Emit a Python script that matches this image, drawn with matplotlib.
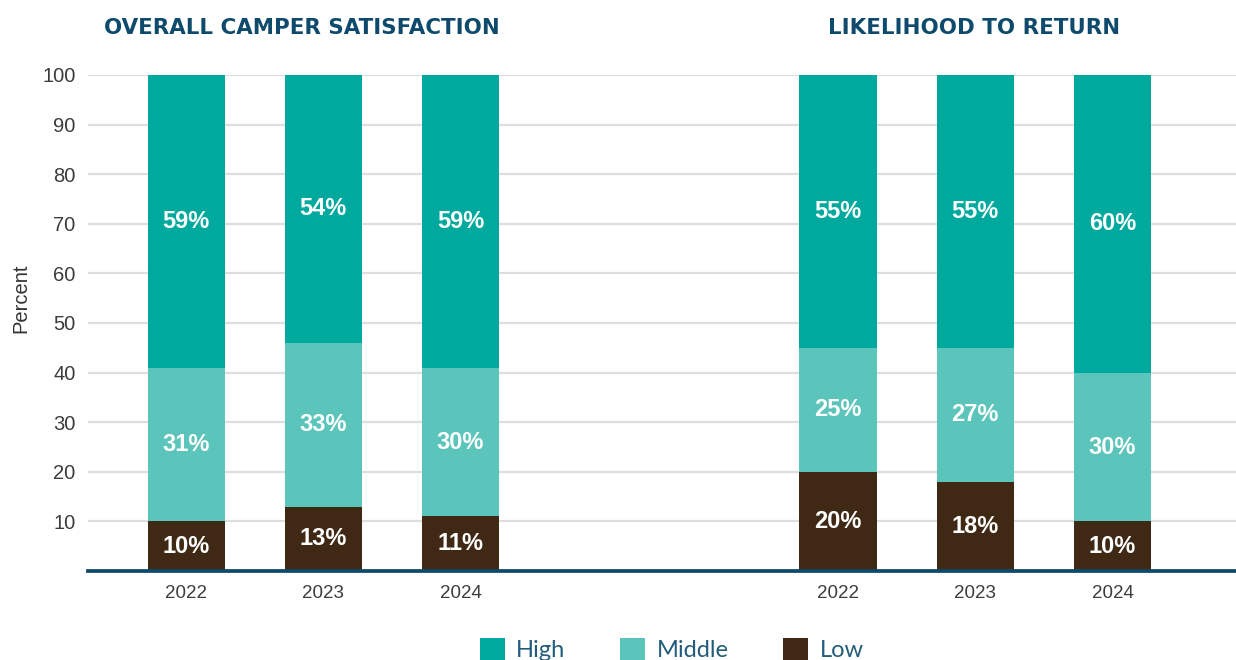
import numpy as np
import matplotlib.pyplot as plt
from matplotlib.patches import Patch

# Data (percent)
years = ["2022", "2023", "2024"]
groups = ["OVERALL CAMPER SATISFACTION", "LIKELIHOOD TO RETURN"]
series = ["High", "Middle", "Low"]

satisfaction_low = [10, 13, 11]
satisfaction_middle = [31, 33, 30]
satisfaction_high = [59, 54, 59]

return_low = [20, 18, 10]
return_middle = [25, 27, 30]
return_high = [55, 55, 60]

y_ticks = [10, 20, 30, 40, 50, 60, 70, 80, 90, 100]

# Style
COLORS = {"High": "#00a99d", "Middle": "#5bc4bb", "Low": "#3f2814"}
TITLE_COLOR = "#0d4a6b"
LEGEND_TEXT = "#245c7c"
TICK_COLOR = "#3c3c3c"

fig = plt.figure(figsize=(12.36, 6.6), dpi=100)
ax = fig.add_axes([88 / 1236, 1 - 571 / 660, 1 - 88 / 1236, (571 - 75) / 660])

# two groups of three bars, with a wide gap between them
x_sat = np.arange(3)
x_ret = np.arange(3) + 4.75
bar_width = 0.562

low = np.array(satisfaction_low + return_low)
middle = np.array(satisfaction_middle + return_middle)
high = np.array(satisfaction_high + return_high)
x_all = np.concatenate([x_sat, x_ret])

ax.bar(x_all, low, bar_width, color=COLORS["Low"], zorder=3)
ax.bar(x_all, middle, bar_width, bottom=low, color=COLORS["Middle"], zorder=3)
ax.bar(x_all, high, bar_width, bottom=low + middle, color=COLORS["High"], zorder=3)

# value labels in the middle of each segment
label_font = dict(family="Liberation Sans", weight="bold", size=17,
                  color="white", ha="center", va="center", zorder=4)
for xi, lo, mi, hi in zip(x_all, low, middle, high):
    ax.text(xi, lo / 2, f"{lo}%", **label_font)
    ax.text(xi, lo + mi / 2, f"{mi}%", **label_font)
    ax.text(xi, lo + mi + hi / 2, f"{hi}%", **label_font)

ax.set_xlim(-0.715, 7.65)
ax.set_ylim(0, 100)
ax.set_xticks(x_all)
ax.set_xticklabels(years + years, family="Liberation Sans", size=13.5, color=TICK_COLOR)
ax.set_yticks(y_ticks)
ax.set_yticklabels([str(t) for t in y_ticks], family="Liberation Sans", size=14.5,
                   color=TICK_COLOR)
ax.tick_params(axis="both", length=0)
ax.tick_params(axis="x", pad=10)
ax.tick_params(axis="y", pad=9)
ax.set_ylabel("Percent", family="Liberation Sans", size=14.5, color="#333333")
ax.yaxis.set_label_coords(-0.05, 0.55)

ax.grid(axis="y", color="#dedede", linewidth=1.6, zorder=0)
for side in ["top", "right", "left"]:
    ax.spines[side].set_visible(False)
ax.spines["bottom"].set_color(TITLE_COLOR)
ax.spines["bottom"].set_linewidth(2.7)
ax.spines["bottom"].set_zorder(5)

# group titles
title_font = dict(ha="center", va="center", family="DejaVu Sans", weight="bold",
                  size=15.4, color=TITLE_COLOR)
fig.text(302 / 1236, 1 - 28 / 660, groups[0], **title_font)
fig.text(974 / 1236, 1 - 28 / 660, groups[1], **title_font)

# legend at the bottom, close to the figure edge as in the original
handles = [Patch(facecolor=COLORS[s], edgecolor="none") for s in series]
leg = fig.legend(handles, series, loc="upper left", bbox_to_anchor=(463 / 1236, 1 - 621 / 660),
                 ncol=3, frameon=False, handlelength=1.06, handleheight=1.06,
                 handletextpad=0.5, columnspacing=2.3, borderpad=0.2,
                 prop=dict(family="Lato", size=17))
for t in leg.get_texts():
    t.set_color(LEGEND_TEXT)

fig.savefig("out.png", dpi=100)
